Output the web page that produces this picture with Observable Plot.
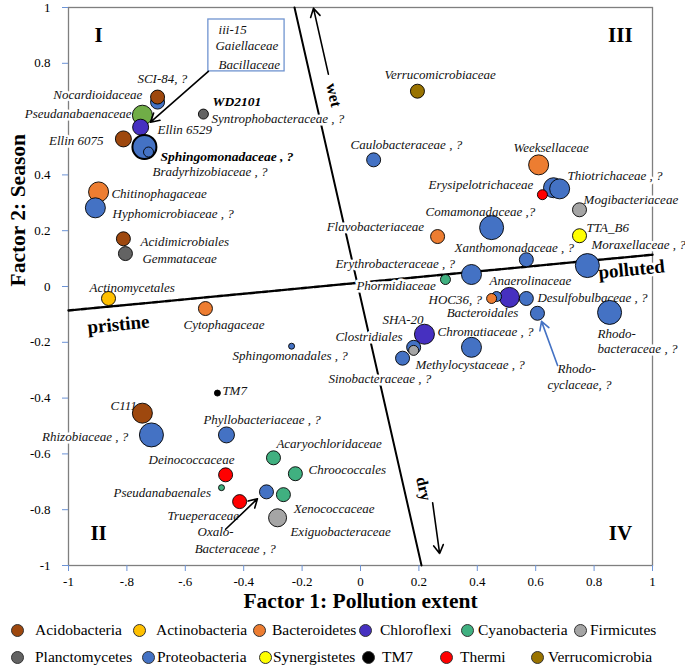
<!DOCTYPE html>
<html><head><meta charset="utf-8">
<script src="https://cdn.jsdelivr.net/npm/d3@7"></script>
<script src="https://cdn.jsdelivr.net/npm/@observablehq/plot@0.6"></script>
<style>
body{margin:0;background:#fff;font-family:"Liberation Serif","Times New Roman",serif}
#legend{position:relative;width:685px;height:52px}
.sw{position:absolute;width:13px;height:13px;border-radius:50%;border:1px solid #333;box-sizing:border-box}
.lt{position:absolute;font-size:15.5px;line-height:18px;white-space:nowrap;color:#000}
</style></head><body>
<div id="chart"></div>
<div id="legend"></div>
<script>
// ---- data ----
const phyla = ["Acidobacteria","Actinobacteria","Bacteroidetes","Chloroflexi","Cyanobacteria","Firmicutes","Planctomycetes","Proteobacteria","Synergistetes","TM7","Thermi","Verrucomicrobia","Cyanobacteria (Pseudanabaenaceae)"];
const phylumColors = ["#9E480E","#FFC000","#ED7D31","#4630C0","#40B080","#A5A5A5","#636363","#4472C4","#FFFF00","#000000","#FF0000","#997300","#70AD47"];

const taxa = ["Nocardioidaceae","SCI-84","Ellin 6075","Ellin 6529","Pseudanabaenaceae","Sphingomonadaceae","Bradyrhizobiaceae","WD2101","Chitinophagaceae","Hyphomicrobiaceae","Acidimicrobiales","Gemmataceae","Actinomycetales","Cytophagaceae","Sphingomonadales","Verrucomicrobiaceae","Caulobacteraceae","Weeksellaceae","Thiotrichaceae b","Thiotrichaceae","Erysipelotrichaceae","Mogibacteriaceae","Comamonadaceae","Flavobacteriaceae","TTA_B6","Xanthomonadaceae","Moraxellaceae","Erythrobacteraceae","Phormidiaceae","HOC36","Bacteroidales","Anaerolinaceae","Desulfobulbaceae","Rhodocyclaceae","Rhodobacteraceae","SHA-20","Chromatiaceae","Clostridiales b","Clostridiales","Sinobacteraceae","TM7","C111","Rhizobiaceae","Phyllobacteriaceae","Acaryochloridaceae","Deinococcaceae","Chroococcales","Pseudanabaenales","Oxalobacteraceae","Xenococcaceae","Trueperaceae","Exiguobacteraceae"];
const taxaPhylum = ["Proteobacteria","Acidobacteria","Acidobacteria","Chloroflexi","Cyanobacteria (Pseudanabaenaceae)","Proteobacteria","Proteobacteria","Planctomycetes","Bacteroidetes","Proteobacteria","Acidobacteria","Planctomycetes","Actinobacteria","Bacteroidetes","Proteobacteria","Verrucomicrobia","Proteobacteria","Bacteroidetes","Proteobacteria","Proteobacteria","Thermi","Firmicutes","Proteobacteria","Bacteroidetes","Synergistetes","Proteobacteria","Proteobacteria","Proteobacteria","Cyanobacteria","Proteobacteria","Bacteroidetes","Chloroflexi","Proteobacteria","Proteobacteria","Proteobacteria","Chloroflexi","Proteobacteria","Proteobacteria","Firmicutes","Proteobacteria","TM7","Acidobacteria","Proteobacteria","Proteobacteria","Cyanobacteria","Thermi","Cyanobacteria","Cyanobacteria","Proteobacteria","Cyanobacteria","Thermi","Firmicutes"];
const factor1 = [-0.695,-0.695,-0.812,-0.753,-0.747,-0.740,-0.726,-0.538,-0.897,-0.908,-0.812,-0.805,-0.863,-0.531,-0.236,0.195,0.045,0.610,0.661,0.682,0.623,0.750,0.449,0.264,0.750,0.568,0.777,0.380,0.291,0.466,0.449,0.510,0.568,0.606,0.853,0.219,0.380,0.182,0.182,0.144,-0.490,-0.747,-0.716,-0.459,-0.298,-0.462,-0.223,-0.476,-0.322,-0.264,-0.414,-0.284];
const factor2 = [0.661,0.679,0.529,0.571,0.614,0.500,0.482,0.618,0.339,0.282,0.171,0.118,-0.043,-0.079,-0.214,0.700,0.454,0.436,0.354,0.350,0.329,0.275,0.211,0.179,0.182,0.096,0.075,0.043,0.025,-0.036,-0.043,-0.039,-0.043,-0.096,-0.093,-0.171,-0.218,-0.218,-0.229,-0.257,-0.382,-0.454,-0.532,-0.532,-0.614,-0.675,-0.671,-0.721,-0.736,-0.746,-0.771,-0.829];
const abundance = [7,7,8,8,10,12,5,5,10,10,7,7,7,7,3,7,7,10,10,10,5,7,12,7,7,7,12,10,5,5,5,10,7,7,12,10,10,7,5,7,3,10,12,8,7,7,7,3,7,7,7,9];

// labels (annotation text and anchor positions in data units)
const labelText = ["SCI-84, ?","Nocardioidaceae","Pseudanabaenaceae","Ellin 6529","Ellin 6075","Bradyrhizobiaceae , ?","Syntrophobacteraceae , ?","Chitinophagaceae","Hyphomicrobiaceae , ?","Acidimicrobiales","Gemmataceae","Actinomycetales","Cytophagaceae","Sphingomonadales , ?","Verrucomicrobiaceae","Caulobacteraceae , ?","Weeksellaceae","Thiotrichaceae , ?","Erysipelotrichaceae","Mogibacteriaceae","Comamonadaceae ,?","Flavobacteriaceae","TTA_B6","Xanthomonadaceae , ?","Moraxellaceae , ?","Erythrobacteraceae , ?","Phormidiaceae","Anaerolinaceae","HOC36, ?","Desulfobulbaceae , ?","Bacteroidales","SHA-20","Chromatiaceae , ?","Clostridiales","Rhodo-","bacteraceae , ?","Methylocystaceae , ?","Sinobacteraceae , ?","Rhodo-","cyclaceae, ?","TM7","C111","Rhizobiaceae , ?","Phyllobacteriaceae , ?","Acaryochloridaceae","Deinococcaceae","Chroococcales","Pseudanabaenales","Xenococcaceae","Trueperaceae","Exiguobacteraceae","Oxalo-","Bacteraceae , ?"];
const labelX = [-0.764,-0.747,-0.784,-0.695,-0.880,-0.712,-0.510,-0.853,-0.849,-0.753,-0.747,-0.928,-0.606,-0.438,0.082,-0.034,0.524,0.709,0.233,0.764,0.223,-0.116,0.774,0.322,0.791,-0.086,-0.014,0.442,0.233,0.606,0.295,0.075,0.264,-0.086,0.812,0.812,0.188,-0.110,0.675,0.640,-0.473,-0.856,-0.795,-0.538,-0.288,-0.726,-0.178,-0.846,-0.229,-0.661,-0.240,-0.558,-0.568];
const labelY = [0.743,0.686,0.618,0.561,0.521,0.411,0.600,0.332,0.261,0.161,0.100,-0.004,-0.136,-0.250,0.757,0.507,0.496,0.396,0.364,0.311,0.268,0.214,0.211,0.139,0.150,0.082,0.004,0.021,-0.046,-0.039,-0.096,-0.118,-0.161,-0.179,-0.168,-0.225,-0.282,-0.332,-0.296,-0.354,-0.375,-0.429,-0.539,-0.479,-0.564,-0.621,-0.657,-0.739,-0.796,-0.821,-0.879,-0.879,-0.939];
const labelAnchor = ["start","end","end","start","end","start","start","start","start","start","start","start","start","start","start","start","start","start","start","start","start","start","start","start","start","start","start","start","start","start","start","start","start","start","start","start","start","start","start","start","start","start","end","start","start","start","start","start","start","start","start","start","start"];
const boldText = ["WD2101","Sphingomonadaceae , ?"];
const boldX = [-0.507,-0.685];
const boldY = [0.661,0.464];
const boxText = ["iii-15","Gaiellaceae","Bacillaceae"];
const boxTextX = [-0.486,-0.497,-0.486];
const boxTextY = [0.921,0.861,0.793];
const boxX = [-0.521,-0.260], boxY = [0.957,0.771];

const quadrantText = ["I","II","III","IV"];
const quadrantX = [-0.897,-0.897,0.890,0.890];
const quadrantY = [0.900,-0.886,0.900,-0.886];

// dividing axes (data units)
const seasonLineX = [-0.226,0.209], seasonLineY = [1,-1];
const pollutionLineX = [-1,1], pollutionLineY = [-0.086,0.114];
const axisWords = ["pristine","polluted"], axisWordX = [-0.829,0.928], axisWordY = [-0.136,0.061];
const dirWords = ["wet","dry"], dirWordX = [-0.092,0.216], dirWordY = [0.686,-0.725];
// arrows: x1,y1,x2,y2
const blackArrows = [[-0.110,0.761,-0.161,0.997],[0.247,-0.775,0.271,-0.957],[-0.521,0.771,-0.719,0.589],[-0.462,-0.870,-0.353,-0.761]];
const blueArrows = [[0.675,-0.283,0.620,-0.125]];

const xTicks = [-1,-0.8,-0.6,-0.4,-0.2,0,0.2,0.4,0.6,0.8,1];
const xTickLabels = ["-1","-.8","-.6","-0.4","-0.2","0","0.2","0.4","0.6","0.8","1"];
const yTicks = [-1,-0.8,-0.6,-0.4,-0.2,0,0.2,0.4,0.6,0.8,1];
const yTickLabels = ["-1","-0.8","-0.6","-0.4","-0.2","0","0.2","0.4","","0.8","1"];

// ---- build tables ----
const points = taxa.map((t,i)=>({taxon:t, phylum:taxaPhylum[i], x:factor1[i], y:factor2[i], size:abundance[i]}));
const labels = labelText.map((t,i)=>({text:t, x:labelX[i], y:labelY[i], anchor:labelAnchor[i]}));
const serif = '"Liberation Serif","Times New Roman",serif';
const halo = {stroke:"white", strokeWidth:5};
const labelStyle = {x:"x", y:"y", text:"text", fontSize:13, fontStyle:"italic", fill:"#111", ...halo};

const chart = Plot.plot({
  width:685, height:615,
  marginTop:7, marginBottom:50, marginLeft:68, marginRight:33,
  x:{domain:[-1,1], axis:null},
  y:{domain:[-1,1], axis:null},
  r:{type:"linear", domain:[0,12], range:[0,12]},
  color:{domain:phyla, range:phylumColors},
  style:{fontFamily:serif, background:"white", overflow:"visible"},
  marks:[
    Plot.frame({stroke:"#7f7f7f", strokeWidth:1.3}),
    Plot.axisX({ticks:xTicks, tickSize:6, tickFormat:()=>"", stroke:"#6C93D6"}),
    Plot.axisX({ticks:xTicks, tickSize:0, tickPadding:11, tickFormat:(d,i)=>xTickLabels[i], fill:"black", fontSize:13}),
    Plot.axisY({ticks:yTicks, tickSize:6, tickFormat:()=>"", stroke:"#6C93D6"}),
    Plot.axisY({ticks:yTicks, tickSize:0, tickPadding:18, tickFormat:(d,i)=>yTickLabels[i], fill:"black", fontSize:13}),
    Plot.text(["Factor 1: Pollution extent"], {frameAnchor:"bottom", lineAnchor:"middle", dy:36, fontSize:21.5, fontWeight:"bold", fill:"black"}),
    Plot.text(["Factor 2: Season"], {frameAnchor:"left", dx:-50, rotate:-90, fontSize:21.5, fontWeight:"bold", fill:"black"}),
    Plot.line(seasonLineX.map((x,i)=>({x, y:seasonLineY[i]})), {x:"x", y:"y", stroke:"black", strokeWidth:2}),
    Plot.line(pollutionLineX.map((x,i)=>({x, y:pollutionLineY[i]})), {x:"x", y:"y", stroke:"black", strokeWidth:2.4, strokeDasharray:"5,1.5"}),
    Plot.text(labels.filter(d=>d.anchor==="start"), {...labelStyle, textAnchor:"start"}),
    Plot.text(labels.filter(d=>d.anchor==="end"), {...labelStyle, textAnchor:"end"}),
    Plot.text(boldText.map((t,i)=>({t, x:boldX[i], y:boldY[i]})), {x:"x", y:"y", text:"t", textAnchor:"start", fontSize:13.5, fontStyle:"italic", fontWeight:"bold", fill:"black", ...halo}),
    Plot.text(quadrantText.map((t,i)=>({t, x:quadrantX[i], y:quadrantY[i]})), {x:"x", y:"y", text:"t", fontSize:21, fontWeight:"bold", fill:"black"}),
    Plot.text(axisWords.map((t,i)=>({t, x:axisWordX[i], y:axisWordY[i]})), {x:"x", y:"y", text:"t", rotate:-5.5, fontSize:19, fontWeight:"bold", fill:"black", ...halo}),
    Plot.text(dirWords.map((t,i)=>({t, x:dirWordX[i], y:dirWordY[i]})), {x:"x", y:"y", text:"t", rotate:77, fontSize:16, fontWeight:"bold", fill:"black"}),
    Plot.dot(points, {x:"x", y:"y", r:"size", fill:"phylum", stroke:"black", strokeWidth:0.9, fillOpacity:1}),
    Plot.dot(points.filter(d=>d.taxon==="Sphingomonadaceae"), {x:"x", y:"y", r:"size", fill:"phylum", stroke:"black", strokeWidth:2}),
    Plot.dot(points.filter(d=>d.taxon==="Bradyrhizobiaceae"), {x:"x", y:"y", r:"size", fill:"phylum", stroke:"black", strokeWidth:0.9}),
    Plot.rect([{x1:boxX[0], x2:boxX[1], y1:boxY[0], y2:boxY[1]}], {x1:"x1", x2:"x2", y1:"y1", y2:"y2", fill:"white", stroke:"#7094D0", strokeWidth:1.3}),
    Plot.text(boxText.map((t,i)=>({t, x:boxTextX[i], y:boxTextY[i]})), {x:"x", y:"y", text:"t", textAnchor:"start", fontSize:13, fontStyle:"italic", fill:"#111"}),
    Plot.arrow(blackArrows, {x1:d=>d[0], y1:d=>d[1], x2:d=>d[2], y2:d=>d[3], stroke:"black", strokeWidth:1.6, headLength:9, bend:0}),
    Plot.arrow(blueArrows, {x1:d=>d[0], y1:d=>d[1], x2:d=>d[2], y2:d=>d[3], stroke:"#4472C4", strokeWidth:1.6, headLength:9, bend:0})
  ]
});
document.getElementById("chart").appendChild(chart);

// ---- legend ----
const legendRows = [
  [["Acidobacteria",17,35],["Actinobacteria",139,156],["Bacteroidetes",259,272],["Chloroflexi",365,380],["Cyanobacteria",467,478],["Firmicutes",580,590]],
  [["Planctomycetes",17,35],["Proteobacteria",148,157],["Synergistetes",265,273],["TM7",368,382],["Thermi",446,460],["Verrucomicrobia",537,548]]
];
const rowCenters = [15,42];
const leg = document.getElementById("legend");
legendRows.forEach((row,ri)=>{
  row.forEach(([name,cx,tx])=>{
    const sw = document.createElement("div");
    sw.className="sw";
    sw.style.left=(cx-6.5)+"px"; sw.style.top=(rowCenters[ri]-6.5)+"px";
    sw.style.background=phylumColors[phyla.indexOf(name)];
    leg.appendChild(sw);
    const t = document.createElement("div");
    t.className="lt"; t.textContent=name;
    t.style.left=tx+"px"; t.style.top=(rowCenters[ri]-9)+"px";
    leg.appendChild(t);
  });
});
</script>
</body></html>
